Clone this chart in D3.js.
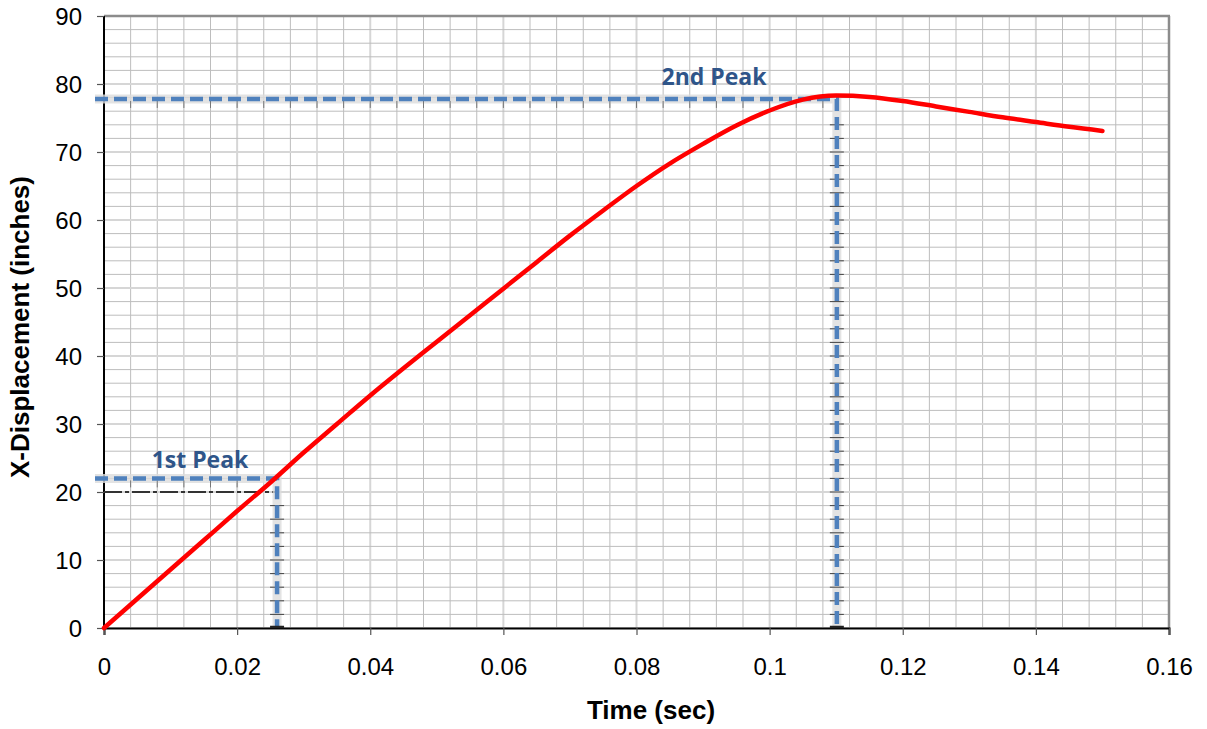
<!DOCTYPE html>
<html><head><meta charset="utf-8">
<script src="https://cdn.jsdelivr.net/npm/d3@7"></script>
<style>body{margin:0;background:#fff}svg{display:block}</style>
</head><body>
<script>
const timeValues = [0,0.005,0.01,0.015,0.02,0.025,0.03,0.035,0.04,0.045,0.05,0.055,0.06,0.065,0.07,0.075,0.08,0.085,0.09,0.095,0.1,0.105,0.11,0.115,0.12,0.125,0.13,0.135,0.14,0.145,0.15];
const dispValues = [0,4.3,8.6,12.9,17.2,21.4,25.8,30.0,34.2,38.2,42.1,46.0,49.9,53.8,57.7,61.4,65.0,68.3,71.2,73.9,76.1,77.7,78.3,78.1,77.5,76.7,75.9,75.1,74.4,73.7,73.1];
const xTicks = [0,0.02,0.04,0.06,0.08,0.1,0.12,0.14,0.16];
const xTickLabels = ["0","0.02","0.04","0.06","0.08","0.1","0.12","0.14","0.16"];
const yTicks = [0,10,20,30,40,50,60,70,80,90];
const peakLabels = ["1st Peak","2nd Peak"];
const peakTimes = [0.026,0.1101];
const peakValues = [22.0,77.8];

const W=1207,H=729;
const svg=d3.select("body").append("svg").attr("width",W).attr("height",H);
const x=d3.scaleLinear().domain([0,0.16]).range([104,1169]);
const y=d3.scaleLinear().domain([0,90]).range([628,16]);

// grid
const g=svg.append("g");
g.selectAll(".vx").data(d3.range(0,41).map(i=>i*0.004)).enter().append("line")
 .attr("x1",d=>x(d)).attr("x2",d=>x(d)).attr("y1",y(0)).attr("y2",y(90))
 .attr("stroke",(d,i)=>i%5===0?"#d6d6d6":"#bdbdbd").attr("stroke-width",(d,i)=>i%5===0?2:1);
g.selectAll(".hy").data(d3.range(0,46).map(i=>i*2)).enter().append("line")
 .attr("y1",d=>y(d)).attr("y2",d=>y(d)).attr("x1",x(0)).attr("x2",x(0.16))
 .attr("stroke",(d,i)=>i%5===0?"#d6d6d6":"#bdbdbd").attr("stroke-width",(d,i)=>i%5===0?2:1);

// border top/right
svg.append("line").attr("x1",x(0)).attr("x2",x(0.16)+1).attr("y1",y(90)).attr("y2",y(90)).attr("stroke","#8c8c8c").attr("stroke-width",2.5);
svg.append("line").attr("x1",x(0.16)).attr("x2",x(0.16)).attr("y1",y(90)).attr("y2",y(0)).attr("stroke","#8c8c8c").attr("stroke-width",2.5);

// axes
const xa=svg.append("g").attr("transform",`translate(0,${y(0)})`)
 .call(d3.axisBottom(x).tickValues(xTicks).tickFormat((d,i)=>xTickLabels[i]).tickSize(7).tickPadding(23));
const ya=svg.append("g").attr("transform",`translate(${x(0)},0)`)
 .call(d3.axisLeft(y).tickValues(yTicks).tickSize(7).tickPadding(15));
[xa,ya].forEach(a=>{
 a.select(".domain").attr("stroke","#000").attr("stroke-width",2);
 a.selectAll(".tick line").attr("stroke","#555").attr("stroke-width",1.2);
 a.selectAll("text").attr("font-family","Liberation Sans, Arial, sans-serif").attr("font-size",24).attr("fill","#000");
});
ya.select(".domain").attr("d",`M0,${y(90)}V${y(0)}`);
ya.selectAll(".tick text").attr("dy","0.35em");

// black dashed line at 20 under 1st peak
svg.append("line").attr("x1",x(0)).attr("x2",x(peakTimes[0])-2).attr("y1",y(20)).attr("y2",y(20))
 .attr("stroke","#333").attr("stroke-width",2).attr("stroke-dasharray","18,3,4,3");

// peak guide lines
peakTimes.forEach((t,i)=>{
 const v=peakValues[i];
 const path=`M${x(0)-9},${y(v)}H${x(t)}V${y(0)}`;
 svg.append("path").attr("d",path).attr("fill","none").attr("stroke","#dcdcdc").attr("stroke-width",9).attr("opacity",0.8);
 const vt=d3.range(1,Math.floor(v/2)).map(k=>k*2).filter(k=>k<v-3);
 svg.append("g").selectAll("line").data(vt).enter().append("line")
  .attr("x1",x(t)-7).attr("x2",x(t)+7).attr("y1",d=>y(d)).attr("y2",d=>y(d)).attr("stroke","#444").attr("stroke-width",1);
 const ht=d3.range(1,41).map(k=>k*0.004).filter(k=>k<t-0.002);
 svg.append("g").selectAll("line").data(ht).enter().append("line")
  .attr("x1",d=>x(d)).attr("x2",d=>x(d)).attr("y1",y(v)+2).attr("y2",y(v)+9).attr("stroke","#777").attr("stroke-width",1);
 svg.append("path").attr("d",path).attr("fill","none").attr("stroke","#4f81bd").attr("stroke-width",4.5).attr("stroke-dasharray","13,6");
 svg.append("line").attr("x1",x(t)-7).attr("x2",x(t)+7).attr("y1",y(0)-1).attr("y2",y(0)-1).attr("stroke","#222").attr("stroke-width",2.5);
});

// curve
svg.append("path").datum(timeValues.map((t,i)=>[t,dispValues[i]]))
 .attr("d",d3.line().x(d=>x(d[0])).y(d=>y(d[1])).curve(d3.curveMonotoneX))
 .attr("fill","none").attr("stroke","#ff0000").attr("stroke-width",4.5).attr("stroke-linecap","round");

// peak labels
const labPos=[[200,462],[714,79]];
peakLabels.forEach((s,i)=>{
 svg.append("text").attr("x",labPos[i][0]).attr("y",labPos[i][1]).attr("text-anchor","middle")
  .attr("dominant-baseline","middle").attr("font-family","Open Sans, sans-serif").attr("font-weight","bold")
  .attr("font-size",23).attr("fill","#2f5589").text(s);
});

// axis titles
svg.append("text").attr("x",651).attr("y",712).attr("text-anchor","middle").attr("dominant-baseline","middle")
 .attr("font-family","Liberation Sans, Arial, sans-serif").attr("font-weight","bold").attr("font-size",26).text("Time (sec)");
svg.append("text").attr("transform","translate(22,327) rotate(-90)").attr("text-anchor","middle").attr("dominant-baseline","middle")
 .attr("font-family","Liberation Sans, Arial, sans-serif").attr("font-weight","bold").attr("font-size",26).text("X-Displacement (inches)");
</script>
</body></html>
